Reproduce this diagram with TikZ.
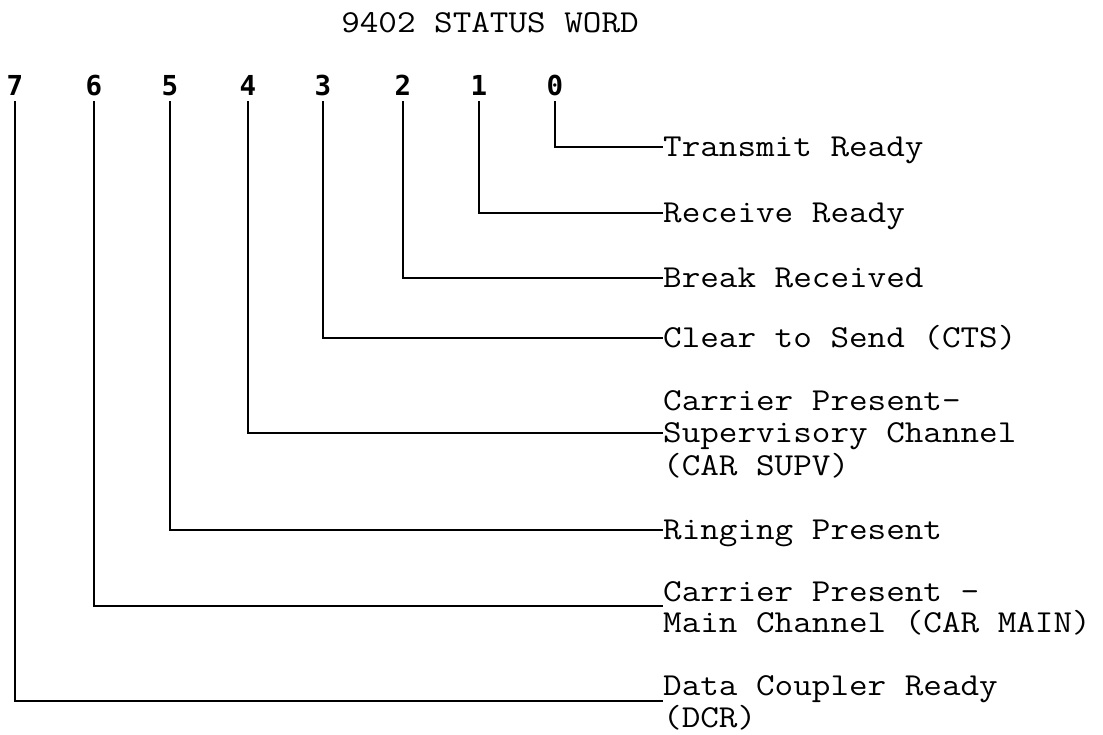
\documentclass[tikz,border=0pt]{standalone}
\usepackage{fontspec}
\newfontfamily\digfont{DejaVu Sans Mono}
\newcommand\labsize{\ttfamily\fontsize{32}{32}\selectfont\addfontfeature{FakeBold=0.8}}
\newcommand\wide[1]{\scalebox{1.128}[1]{#1}}
\begin{document}
\begin{tikzpicture}[x=1pt,y=-1pt,
  bit/.style={font=\digfont\bfseries\fontsize{27.5}{27.5}\selectfont, inner xsep=0pt, inner ysep=6pt, text height=20pt, text depth=0pt},
  lab/.style={font=\labsize, anchor=west, inner sep=0pt, text height=19.6pt, text depth=0pt},
  wire/.style={line width=2.8pt, draw=black}]
\useasboundingbox[fill=white] (0,0) rectangle (1103,734);

\node[lab, anchor=center] (title) at (490,23) {\wide{9402 STATUS WORD}};

\node[bit] (b7) at (15,85) {7};
\node[bit] (b6) at (94,85) {6};
\node[bit] (b5) at (170,85) {5};
\node[bit] (b4) at (248,85) {4};
\node[bit] (b3) at (323,85) {3};
\node[bit] (b2) at (403,85) {2};
\node[bit] (b1) at (479,85) {1};
\node[bit] (b0) at (555,85) {0};

\node[lab] (l0) at (663,147) {\wide{Transmit Ready}};
\node[lab] (l1) at (663,213) {\wide{Receive Ready}};
\node[lab] (l2) at (663,278) {\wide{Break Received}};
\node[lab] (l3) at (663,338) {\wide{Clear to Send (CTS)}};
\node[lab] (l4a) at (663,401) {\wide{Carrier Present-}};
\node[lab] (l4) at (663,433) {\wide{Supervisory Channel}};
\node[lab] (l4c) at (663,466) {\wide{(CAR SUPV)}};
\node[lab] (l5) at (663,530) {\wide{Ringing Present}};
\node[lab] (l6) at (663,592) {\wide{Carrier Present -}};
\node[lab] (l6b) at (663,623) {\wide{Main Channel (CAR MAIN)}};
\node[lab] (l7) at (663,686) {\wide{Data Coupler Ready}};
\node[lab] (l7b) at (663,718) {\wide{(DCR)}};

\coordinate (c6) at (663,606);
\coordinate (c7) at (663,701);

\draw[wire] (b0.south) |- (l0.west);
\draw[wire] (b1.south) |- (l1.west);
\draw[wire] (b2.south) |- (l2.west);
\draw[wire] (b3.south) |- (l3.west);
\draw[wire] (b4.south) |- (l4.west);
\draw[wire] (b5.south) |- (l5.west);
\draw[wire] (b6.south) |- (c6);
\draw[wire] (b7.south) |- (c7);
\end{tikzpicture}
\end{document}
